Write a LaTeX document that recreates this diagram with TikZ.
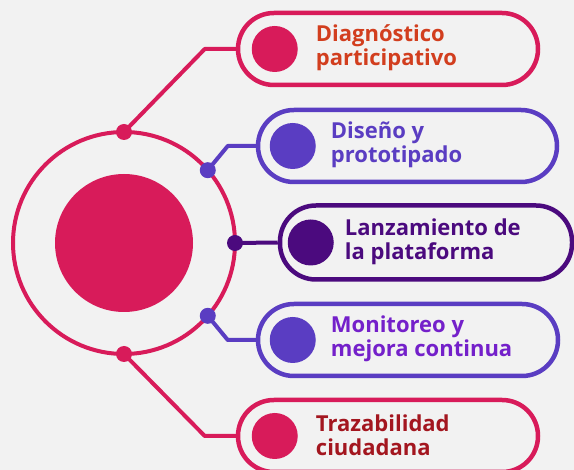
\documentclass[tikz,border=0pt]{standalone}
\usepackage{fontspec}
\setmainfont{Open Sans}
\usetikzlibrary{positioning}
\definecolor{paper}{HTML}{F2F2F2}
\definecolor{rosa}{HTML}{D81B5A}
\definecolor{lila}{HTML}{5A3DC2}
\definecolor{uva}{HTML}{4B0A7E}
\definecolor{naranja}{HTML}{D23E1E}
\definecolor{violeta}{HTML}{7420CA}
\definecolor{granate}{HTML}{A3161F}
\begin{document}
\begin{tikzpicture}[x=1pt,y=1pt,
    pill/.style={draw=#1,line width=4.5pt,rounded corners=35.9pt,minimum width=300pt,
      minimum height=72pt,inner sep=0pt},
    blob/.style={circle,fill=#1,inner sep=0pt,minimum size=46pt},
    knot/.style={circle,fill=#1,inner sep=0pt,minimum size=16pt},
    link/.style={draw=#1,line width=4pt},
    txt/.style={anchor=west,align=left,inner sep=0pt,text=#1,
      font=\bfseries\fontsize{22}{24}\selectfont}]
  \fill[paper] (0,0) rectangle (574,-470);
  \useasboundingbox (0,0) rectangle (574,-470);
  % center
  \node[circle,draw=rosa,line width=4pt,outer sep=0pt,minimum size=222pt] (hub) at (124,-243) {};
  \node[circle,fill=rosa,minimum size=138pt] (core) at (hub) {};
  % boxes
  \node[pill=rosa] (b1) at (388,-49) {};
  \node[pill=lila,minimum width=299pt] (b2) at (407.5,-146) {};
  \node[pill=uva,minimum width=292pt,minimum height=74pt] (b3) at (426,-242.5) {};
  \node[pill=lila] (b4) at (408,-340) {};
  \node[pill=rosa] (b5) at (388,-436) {};
  \node[blob=rosa] (p1) at ([xshift=39]b1.west) {};
  \node[blob=lila] (p2) at ([xshift=37]b2.west) {};
  \node[blob=uva]  (p3) at ([xshift=33]b3.west) {};
  \node[blob=lila] (p4) at ([xshift=37]b4.west) {};
  \node[blob=rosa] (p5) at ([xshift=39]b5.west) {};
  \node[txt=naranja] (t1) at ([xshift=80,yshift=1]b1.west) {Diagnóstico\\participativo};
  \node[txt=lila]    (t2) at ([xshift=75,yshift=1]b2.west) {Diseño y\\prototipado};
  \node[txt=uva]     (t3) at ([xshift=67,yshift=1]b3.west) {Lanzamiento de\\la plataforma};
  \node[txt=violeta] (t4) at ([xshift=75,yshift=1]b4.west) {Monitoreo y\\mejora continua};
  \node[txt=granate] (t5) at ([xshift=80,yshift=1]b5.west) {Trazabilidad\\ciudadana};
  % connectors
  \coordinate (e1) at ([xshift=-31]b1.west);
  \coordinate (e2) at ([xshift=-28]b2.west);
  \coordinate (e4) at ([xshift=-28]b4.west);
  \coordinate (e5) at ([xshift=-31]b5.west);
  \draw[link=rosa,line join=round] (hub.90) -- (e1) -- (b1.west);
  \draw[link=lila,line join=round] (hub.41) -- (e2) -- (b2.west);
  \draw[link=uva] (hub.0) -- (b3.west);
  \draw[link=lila,line join=round] (hub.-41) -- (e4) -- (b4.west);
  \draw[link=rosa,line join=round] (hub.-90) -- (e5) -- (b5.west);
  \node[knot=rosa] (d1) at (hub.90) {};
  \node[knot=lila] (d2) at (hub.41) {};
  \node[knot=uva]  (d3) at (hub.0) {};
  \node[knot=lila] (d4) at (hub.-41) {};
  \node[knot=rosa] (d5) at (hub.-90) {};
\end{tikzpicture}
\end{document}
